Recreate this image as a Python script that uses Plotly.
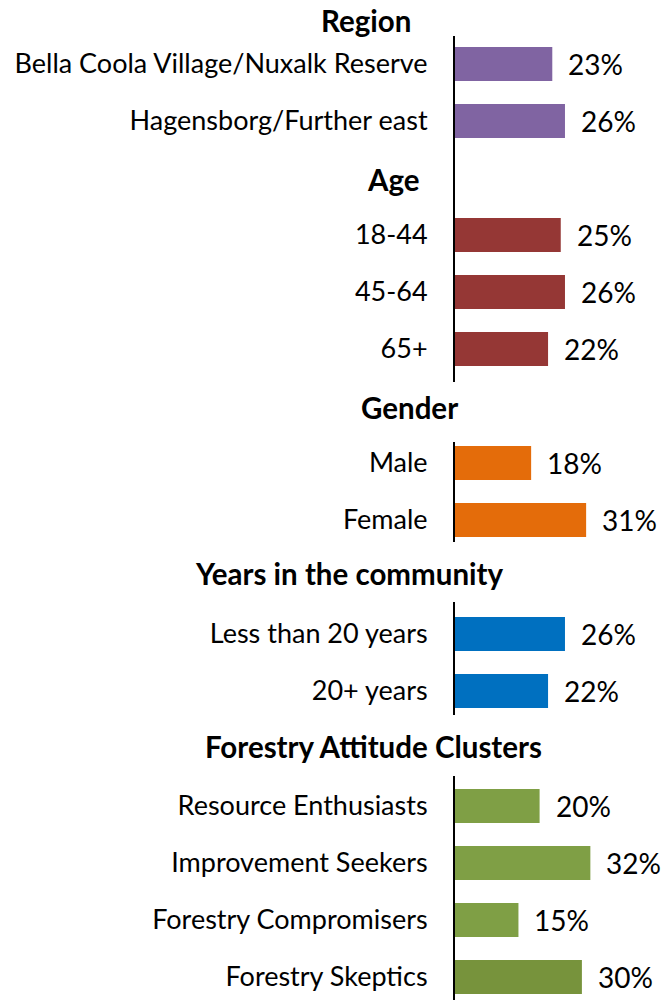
import plotly.graph_objects as go

# ---- data ----
group_titles = ["Region", "Age", "Gender", "Years in the community", "Forestry Attitude Clusters"]
region_labels = ["Bella Coola Village/Nuxalk Reserve", "Hagensborg/Further east"]
region_values = [23, 26]
age_labels = ["18-44", "45-64", "65+"]
age_values = [25, 26, 22]
gender_labels = ["Male", "Female"]
gender_values = [18, 31]
years_labels = ["Less than 20 years", "20+ years"]
years_values = [26, 22]
cluster_labels = ["Resource Enthusiasts", "Improvement Seekers", "Forestry Compromisers", "Forestry Skeptics"]
cluster_values = [20, 32, 15, 30]

region_color = "#8064A2"
age_color = "#953735"
gender_color = "#E46C0A"
years_color = "#0070C0"
cluster_colors = ["#7F9F45", "#7F9F45", "#7F9F45", "#77933C"]

# ---- layout geometry (pixels) ----
W, H = 666, 1000
ML, MR = 455, 0
PITCH = 57.0
PX_PER_UNIT = 4.23
X_MAX = (W - ML - MR) / PX_PER_UNIT
FONT = "Lato"
LABEL_SIZE = 27
VALUE_SIZE = 28
HEAD_SIZE = 29.5

def py(p):
    return 1 - p / H

def px(p):
    return (p - ML) / (W - ML - MR)

# panels: (labels, values, colors, positions, top px, bottom px, first-row px)
panels = []
# Region + Age share one axis segment, with a header slot between them
pos1 = list(range(len(region_labels))) + [len(region_labels) + 1 + i for i in range(len(age_labels))]
panels.append((region_labels + age_labels, region_values + age_values,
               [region_color] * len(region_values) + [age_color] * len(age_values),
               pos1, 36, 382, 64))
panels.append((gender_labels, gender_values, [gender_color] * len(gender_values),
               list(range(len(gender_labels))), 442, 542, 463))
panels.append((years_labels, years_values, [years_color] * len(years_values),
               list(range(len(years_labels))), 602, 715, 634))
panels.append((cluster_labels, cluster_values, cluster_colors,
               list(range(len(cluster_labels))), 776, 1000, 806))

fig = go.Figure()
layout = dict(
    width=W, height=H,
    margin=dict(l=ML, r=MR, t=0, b=0, pad=0),
    plot_bgcolor="white", paper_bgcolor="white",
    showlegend=False,
    font=dict(family=FONT, size=LABEL_SIZE, color="black"),
    bargap=0.4,
)
annotations = []
for i, (labels, values, colors, pos, top, bot, c0) in enumerate(panels):
    n = "" if i == 0 else str(i + 1)
    fig.add_trace(go.Bar(
        x=values, y=pos, orientation="h", width=0.6,
        marker=dict(color=colors, line=dict(width=0)),
        xaxis="x" + n, yaxis="y" + n, hoverinfo="skip",
    ))
    layout["xaxis" + n] = dict(domain=[0, 1], range=[0, X_MAX], visible=False,
                               anchor="y" + n, fixedrange=True)
    layout["yaxis" + n] = dict(
        domain=[py(bot), py(top)],
        range=[(bot - c0) / PITCH, (top - c0) / PITCH],
        anchor="x" + n,
        tickmode="array", tickvals=pos, ticktext=labels,
        showline=True, linecolor="black", linewidth=2,
        showgrid=False, zeroline=False, ticks="",
        ticklabelstandoff=20,
        tickfont=dict(family=FONT, size=LABEL_SIZE, color="black"),
        fixedrange=True,
    )
    for v, p in zip(values, pos):
        annotations.append(dict(
            x=v, y=p, xref="x" + n, yref="y" + n, text=f"{v}%",
            showarrow=False, xanchor="left", yanchor="middle", xshift=14,
            font=dict(family=FONT, size=VALUE_SIZE, color="black"),
        ))

# group headers
head_pos = [(366, 20), (393, 180), (409, 408), (349, 573), (373, 746)]
for t, (hx, hy) in zip(group_titles, head_pos):
    annotations.append(dict(
        x=px(hx), y=py(hy), xref="paper", yref="paper", text=f"<b>{t}</b>",
        showarrow=False, xanchor="center", yanchor="middle",
        font=dict(family=FONT, size=HEAD_SIZE, color="black"),
    ))

layout["annotations"] = annotations
fig.update_layout(**layout)
fig.write_html("out.html", config={"displayModeBar": False},
               post_script="document.body.style.margin='0';document.body.style.overflow='hidden';")
